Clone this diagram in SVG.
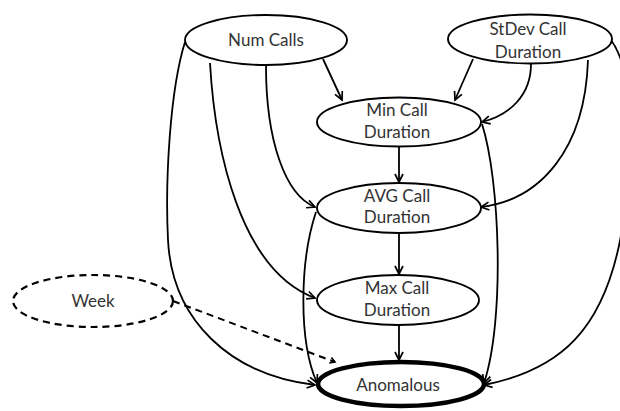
<svg xmlns="http://www.w3.org/2000/svg" width="620" height="411" viewBox="0 0 620 411">
<style>
.node{fill:#fff;stroke:#000;stroke-width:1.9}
.thick{stroke-width:4.5}
.dashed{stroke-dasharray:7 5;stroke-width:2.2}
.lbl{font-family:Lato,"Open Sans","Liberation Sans",sans-serif;font-size:17px;fill:#333;text-anchor:middle}
.edge{fill:none;stroke:#000;stroke-width:1.8}
.dash{stroke-dasharray:7 5;stroke-width:2}
</style>
<defs>
<marker id="arr" markerUnits="userSpaceOnUse" markerWidth="12" markerHeight="12" refX="8" refY="4" orient="auto" overflow="visible">
<path d="M0,0 L8,4 L0,8" fill="none" stroke="#000" stroke-width="1.7"/>
</marker>
<marker id="arr-small" markerUnits="userSpaceOnUse" markerWidth="8" markerHeight="8" refX="5" refY="3" orient="auto" overflow="visible">
<path d="M0,0 L5,3 L0,6" fill="none" stroke="#000" stroke-width="1.6"/>
</marker>
</defs>
<rect width="620" height="411" fill="#fff"/>
<g id="connectors">
<path class="edge" d="M323,59 L342,100" marker-end="url(#arr)"/>
<path class="edge" d="M266,66 C266,140 285,195 315,207" marker-end="url(#arr)"/>
<path class="edge" d="M210,63 C215,150 240,270 315,298" marker-end="url(#arr)"/>
<path class="edge" d="M185,42 C170,90 165,180 168,240 C172,320 230,375 315,385" marker-end="url(#arr)"/>
<path class="edge" d="M473,59 L455,100" marker-end="url(#arr)"/>
<path class="edge" d="M531,64 C531,95 510,115 482,122" marker-end="url(#arr)"/>
<path class="edge" d="M588,60 C585,150 540,200 481,207" marker-end="url(#arr)"/>
<path class="edge" d="M611,40 C640,80 630,180 622,230 C605,330 560,370 484,385" marker-end="url(#arr)"/>
<path class="edge" d="M482,124 C500,180 505,320 484,383" marker-end="url(#arr)"/>
<path class="edge" d="M316,212 C300,260 298,340 317,383" marker-end="url(#arr)"/>
<path class="edge" d="M399,147 L399,182" marker-end="url(#arr)"/>
<path class="edge" d="M399,233 L399,274" marker-end="url(#arr)"/>
<path class="edge" d="M399,325 L399,360" marker-end="url(#arr)"/>
<path class="edge dash" d="M173,301 L335,362" marker-end="url(#arr-small)"/>
</g>
<g id="num-calls">
<ellipse class="node" cx="266" cy="40" rx="81" ry="25"/>
<text class="lbl" x="266" y="46">Num Calls</text>
</g>
<g id="stdev">
<ellipse class="node" cx="530" cy="39" rx="82" ry="24.5"/>
<text class="lbl" x="528" y="35">StDev Call</text>
<text class="lbl" x="528" y="58">Duration</text>
</g>
<g id="min">
<ellipse class="node" cx="399" cy="122" rx="82" ry="24.5"/>
<text class="lbl" x="397" y="116">Min Call</text>
<text class="lbl" x="397" y="138">Duration</text>
</g>
<g id="avg">
<ellipse class="node" cx="399" cy="208" rx="82" ry="25"/>
<text class="lbl" x="397" y="202">AVG Call</text>
<text class="lbl" x="397" y="223">Duration</text>
</g>
<g id="max">
<ellipse class="node" cx="398" cy="300" rx="81" ry="25"/>
<text class="lbl" x="397" y="294">Max Call</text>
<text class="lbl" x="397" y="316">Duration</text>
</g>
<g id="anomalous">
<ellipse class="node thick" cx="401" cy="384" rx="83" ry="22"/>
<text class="lbl" x="398" y="391">Anomalous</text>
</g>
<g id="week">
<ellipse class="node dashed" cx="93" cy="301" rx="80" ry="26"/>
<text class="lbl" x="93" y="307">Week</text>
</g>
</svg>
